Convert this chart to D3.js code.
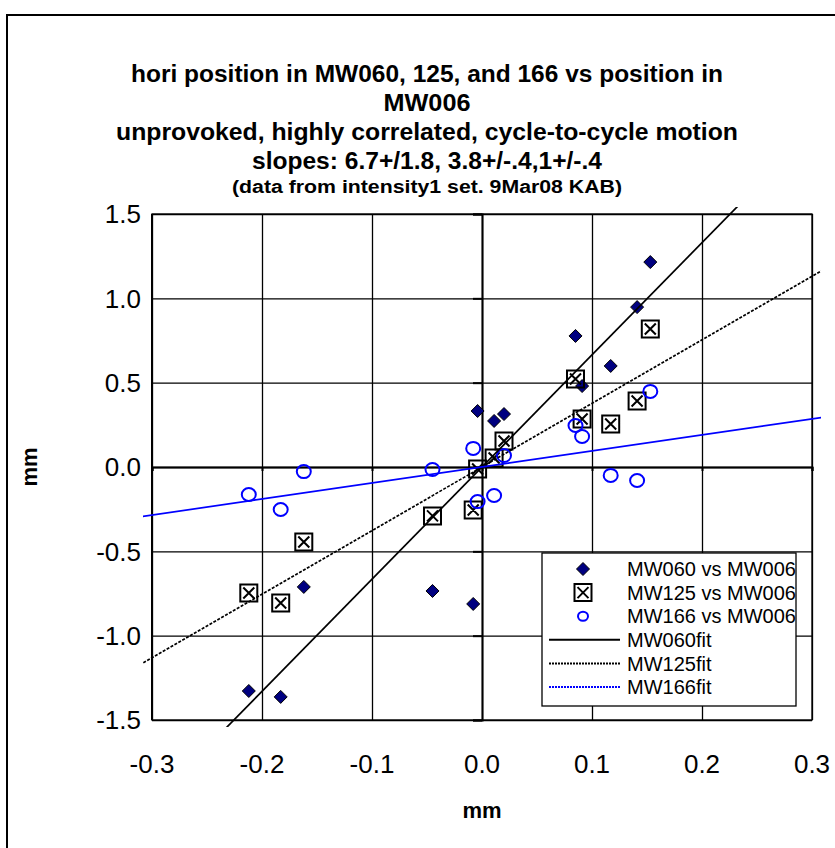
<!DOCTYPE html>
<html><head><meta charset="utf-8">
<script src="https://cdn.jsdelivr.net/npm/d3@7/dist/d3.min.js"></script>
<style>body{margin:0;background:#fff;} text{font-family:"Liberation Sans",Arial,sans-serif;}</style>
</head><body>
<svg id="c" width="835" height="848"></svg>
<script>
// ---- data ----
const titleLines = ["hori position in MW060, 125, and 166 vs position in", "MW006",
  "unprovoked, highly correlated, cycle-to-cycle motion", "slopes: 6.7+/1.8, 3.8+/-.4,1+/-.4"];
const subTitle = "(data from intensity1 set. 9Mar08 KAB)";
const xTicks = [-0.3, -0.2, -0.1, 0.0, 0.1, 0.2, 0.3];
const yTicks = [-1.5, -1.0, -0.5, 0.0, 0.5, 1.0, 1.5];
const mw006 = [0.153, 0.141, 0.085, 0.117, 0.091, -0.004, 0.011, 0.020, -0.162, -0.045, -0.008, -0.212, -0.183];
const mw060 = [1.215, 0.948, 0.777, 0.599, 0.480, 0.332, 0.273, 0.314, -0.711, -0.735, -0.812, -1.328, -1.363];
const mw125 = [0.818, 0.391, 0.522, 0.255, 0.285, -0.012, 0.053, 0.154, -0.445, -0.290, -0.255, -0.747, -0.806];
const mw166 = [0.448, -0.080, 0.246, -0.050, 0.181, -0.205, -0.169, 0.068, -0.027, -0.015, 0.110, -0.163, -0.252];
const fitNames = ["MW060fit", "MW125fit", "MW166fit"];
const fitSlopes = [6.65, 3.77, 0.95];
const fitIntercepts = [0, 0, 0];
const fitRange = [-0.4, 0.4];
const legendNames = ["MW060 vs MW006", "MW125 vs MW006", "MW166 vs MW006", "MW060fit", "MW125fit", "MW166fit"];

const svg = d3.select("#c");
const L = 152, R = 812, T = 214, B = 720;
const x = d3.scaleLinear().domain([-0.3, 0.3]).range([L, R]);
const y = d3.scaleLinear().domain([-1.5, 1.5]).range([B, T]);
const loc = d3.formatLocale({decimal: ".", thousands: ",", grouping: [3], currency: ["", ""], minus: "-"});
const fmt = loc.format(".1f");

// outer chart border
svg.append("rect").attr("x", 7).attr("y", 15).attr("width", 900).attr("height", 900)
  .attr("fill", "none").attr("stroke", "#000").attr("stroke-width", 2);

// title
const titleW = [592, 87, 622, 350];
const tg = svg.append("g").attr("font-weight", "bold").attr("text-anchor", "middle");
titleLines.forEach((t, i) => {
  tg.append("text").attr("x", 427).attr("y", 82 + i * 29).attr("font-size", 23)
    .attr("textLength", titleW[i]).attr("lengthAdjust", "spacingAndGlyphs").text(t);
});
tg.append("text").attr("x", 427).attr("y", 193).attr("font-size", 18)
  .attr("textLength", 390).attr("lengthAdjust", "spacingAndGlyphs").text(subTitle);

// plot area
svg.append("rect").attr("x", L).attr("y", T).attr("width", R - L).attr("height", B - T)
  .attr("fill", "#fff").attr("stroke", "#000").attr("stroke-width", 1.3);

// gridlines via axes
svg.append("g").attr("transform", `translate(0,${B})`)
  .call(d3.axisBottom(x).tickValues(xTicks).tickSize(-(B - T)).tickFormat(""))
  .call(g => { g.select(".domain").remove(); g.selectAll("line").attr("stroke", "#000").attr("stroke-width", 1.3); });
svg.append("g").attr("transform", `translate(${L},0)`)
  .call(d3.axisLeft(y).tickValues(yTicks).tickSize(-(R - L)).tickFormat(""))
  .call(g => { g.select(".domain").remove(); g.selectAll("line").attr("stroke", "#000").attr("stroke-width", 1.3); });
svg.append("line").attr("x1", L).attr("x2", L).attr("y1", T).attr("y2", B).attr("stroke", "#000").attr("stroke-width", 2);

// axes crossing at zero
svg.append("g").attr("transform", `translate(${x(0)},0)`)
  .call(d3.axisLeft(y).tickValues(yTicks).tickSize(9).tickFormat(""))
  .call(g => { g.selectAll("path,line").attr("stroke", "#000").attr("stroke-width", 2); });
svg.append("g").attr("transform", `translate(0,${y(0)})`)
  .call(d3.axisBottom(x).tickValues(xTicks).tickSize(4).tickFormat(""))
  .call(g => { g.selectAll("path,line").attr("stroke", "#000").attr("stroke-width", 2); });

// tick labels (low position)
const lab = svg.append("g").attr("font-size", 26).attr("fill", "#000");
lab.selectAll(".yl").data(yTicks).join("text").attr("class", "yl")
  .attr("x", 141).attr("y", d => y(d)).attr("dy", "0.36em").attr("text-anchor", "end").text(fmt);
lab.selectAll(".xl").data(xTicks).join("text").attr("class", "xl")
  .attr("x", d => x(d)).attr("y", 773).attr("text-anchor", "middle").text(fmt);

// axis titles
svg.append("text").attr("x", x(0)).attr("y", 818).attr("text-anchor", "middle")
  .attr("font-weight", "bold").attr("font-size", 22).text("mm");
svg.append("text").attr("transform", `translate(37,${y(0)}) rotate(-90)`).attr("text-anchor", "middle")
  .attr("font-weight", "bold").attr("font-size", 22).text("mm");

// marker helpers
const diamond = (g, cx, cy, s) => g.append("path")
  .attr("d", `M${cx},${cy - s}L${cx + s},${cy}L${cx},${cy + s}L${cx - s},${cy}Z`)
  .attr("fill", "#000080").attr("stroke", "#000").attr("stroke-width", 1);
const xsquare = (g, cx, cy, h) => g.append("path")
  .attr("d", `M${cx - h},${cy - h}H${cx + h}V${cy + h}H${cx - h}Z M${cx - h + 3},${cy - h + 3}L${cx + h - 3},${cy + h - 3} M${cx + h - 3},${cy - h + 3}L${cx - h + 3},${cy + h - 3}`)
  .attr("fill", "none").attr("stroke", "#000").attr("stroke-width", 2);
const oring = (g, cx, cy, rx, ry) => g.append("ellipse").attr("cx", cx).attr("cy", cy).attr("rx", rx).attr("ry", ry)
  .attr("fill", "none").attr("stroke", "#0000ff").attr("stroke-width", 2);

const pts = svg.append("g");
mw006.forEach((xv, i) => diamond(pts, x(xv), y(mw060[i]), 6.5));
mw006.forEach((xv, i) => xsquare(pts, x(xv), y(mw125[i]), 8.5));
mw006.forEach((xv, i) => oring(pts, x(xv), y(mw166[i]), 7, 6.5));

// fit lines (clipped slightly outside the plot area, like the original)
svg.append("clipPath").attr("id", "fc").append("rect")
  .attr("x", L - 9).attr("y", T - 7).attr("width", R - L + 18).attr("height", B - T + 14);
const fitStyles = [
  {stroke: "#000", dash: null},
  {stroke: "#000", dash: "3,1.5"},
  {stroke: "#0000ff", dash: null}
];
const line = d3.line().x(d => x(d[0])).y(d => y(d[1]));
const fg = svg.append("g").attr("clip-path", "url(#fc)");
fitSlopes.forEach((m, i) => {
  const data = fitRange.map(xv => [xv, fitIntercepts[i] + m * xv]);
  fg.append("path").attr("d", line(data)).attr("fill", "none")
    .attr("stroke", fitStyles[i].stroke).attr("stroke-width", 1.7)
    .attr("stroke-dasharray", fitStyles[i].dash);
});

// legend
const lgX = 542, lgY = 553, lgW = 254, lgH = 153;
const lg = svg.append("g");
lg.append("rect").attr("x", lgX).attr("y", lgY).attr("width", lgW).attr("height", lgH)
  .attr("fill", "#fff").attr("stroke", "#000").attr("stroke-width", 1.3);
const rowY = i => 569 + i * 23.6;
diamond(lg, 583, rowY(0), 6.5);
xsquare(lg, 583, rowY(1), 8.5);
oring(lg, 583, rowY(2), 5, 4.5);
const legDash = [null, "2,1", "2,1"];
[0, 1, 2].forEach(i => {
  lg.append("line").attr("x1", 549).attr("x2", 620).attr("y1", rowY(3 + i)).attr("y2", rowY(3 + i))
    .attr("stroke", fitStyles[i].stroke).attr("stroke-width", 2).attr("stroke-dasharray", legDash[i]);
});
lg.selectAll(".lt").data(legendNames).join("text").attr("class", "lt")
  .attr("x", 627).attr("y", (d, i) => rowY(i)).attr("dy", "0.36em")
  .attr("font-size", 20).text(d => d);
</script>
</body></html>
